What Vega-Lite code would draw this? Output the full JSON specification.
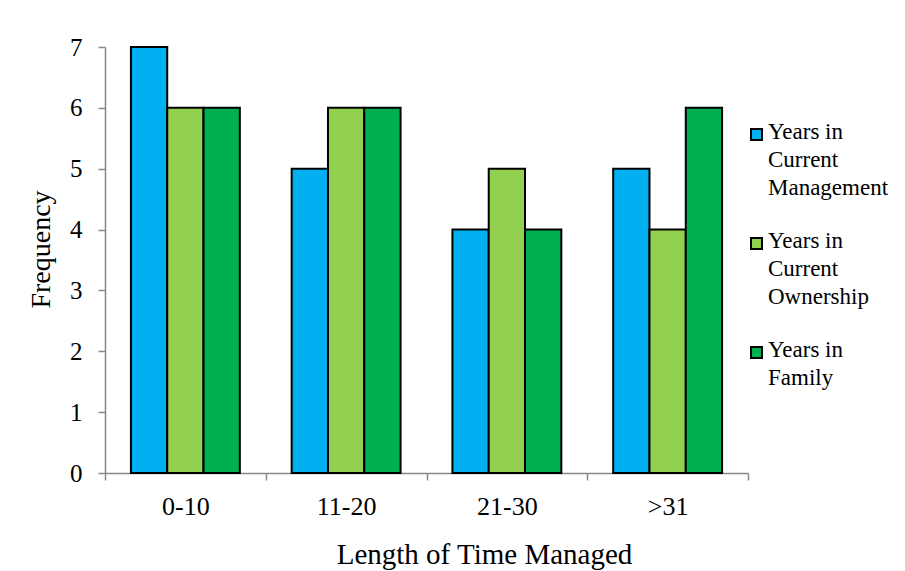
{
  "$schema": "https://vega.github.io/schema/vega-lite/v6.json",
  "width": 643,
  "height": 426,
  "autosize": {"type": "none"},
  "padding": {"left": 105, "top": 47, "right": 157, "bottom": 98},
  "background": "white",
  "config": {
    "view": {"stroke": null},
    "font": "Liberation Serif",
    "axis": {
      "labelFont": "Liberation Serif",
      "titleFont": "Liberation Serif",
      "labelColor": "black",
      "titleColor": "black",
      "titleFontWeight": "normal",
      "domainColor": "#888888",
      "domainWidth": 1.5,
      "tickColor": "#888888",
      "tickWidth": 1.5,
      "tickSize": 7,
      "grid": false
    },
    "legend": {
      "labelFont": "Liberation Serif",
      "labelColor": "black"
    }
  },
  "data": {
    "values": [
      {"range": "0-10", "series": "Years in Current Management", "frequency": 7},
      {"range": "0-10", "series": "Years in Current Ownership", "frequency": 6},
      {"range": "0-10", "series": "Years in Family", "frequency": 6},
      {"range": "11-20", "series": "Years in Current Management", "frequency": 5},
      {"range": "11-20", "series": "Years in Current Ownership", "frequency": 6},
      {"range": "11-20", "series": "Years in Family", "frequency": 6},
      {"range": "21-30", "series": "Years in Current Management", "frequency": 4},
      {"range": "21-30", "series": "Years in Current Ownership", "frequency": 5},
      {"range": "21-30", "series": "Years in Family", "frequency": 4},
      {"range": ">31", "series": "Years in Current Management", "frequency": 5},
      {"range": ">31", "series": "Years in Current Ownership", "frequency": 4},
      {"range": ">31", "series": "Years in Family", "frequency": 6}
    ]
  },
  "mark": {"type": "bar", "stroke": "black", "strokeWidth": 2},
  "encoding": {
    "x": {
      "field": "range",
      "type": "nominal",
      "sort": ["0-10", "11-20", "21-30", ">31"],
      "scale": {"paddingInner": 0, "paddingOuter": 0},
      "axis": {
        "title": "Length of Time Managed",
        "titleFontSize": 29,
        "titleBaseline": "alphabetic",
        "titleX": 379,
        "titleY": 90,
        "labelFontSize": 26,
        "labelPadding": 13,
        "labelAngle": 0,
        "tickBand": "extent"
      }
    },
    "xOffset": {
      "field": "series",
      "type": "nominal",
      "sort": ["Years in Current Management", "Years in Current Ownership", "Years in Family"],
      "scale": {"paddingInner": 0, "paddingOuter": 0.714}
    },
    "y": {
      "field": "frequency",
      "type": "quantitative",
      "scale": {"domain": [0, 7], "nice": false},
      "axis": {
        "title": "Frequency",
        "titleFontSize": 28,
        "titleBaseline": "alphabetic",
        "titleX": -56,
        "titleY": 202,
        "titleAngle": -90,
        "values": [0, 1, 2, 3, 4, 5, 6, 7],
        "labelFontSize": 25,
        "labelPadding": 16
      }
    },
    "color": {
      "field": "series",
      "type": "nominal",
      "sort": ["Years in Current Management", "Years in Current Ownership", "Years in Family"],
      "scale": {
        "domain": ["Years in Current Management", "Years in Current Ownership", "Years in Family"],
        "range": ["#00B0F0", "#92D050", "#00B050"]
      },
      "legend": {
        "title": null,
        "orient": "none",
        "legendX": 640,
        "legendY": 76,
        "padding": 0,
        "symbolType": "square",
        "symbolSize": 121,
        "symbolStrokeColor": "black",
        "symbolStrokeWidth": 2,
        "labelFontSize": 23,
        "labelBaseline": "top",
        "labelOffset": 0,
        "labelLimit": 300,
        "rowPadding": 29,
        "labelExpr": "datum.label == 'Years in Family' ? ['Years in', 'Family'] : ['Years in', 'Current', slice(datum.label, 17)]",
        "encode": {
          "labels": {"update": {"dy": {"value": -14}, "lineHeight": {"value": 28}}}
        }
      }
    }
  }
}
